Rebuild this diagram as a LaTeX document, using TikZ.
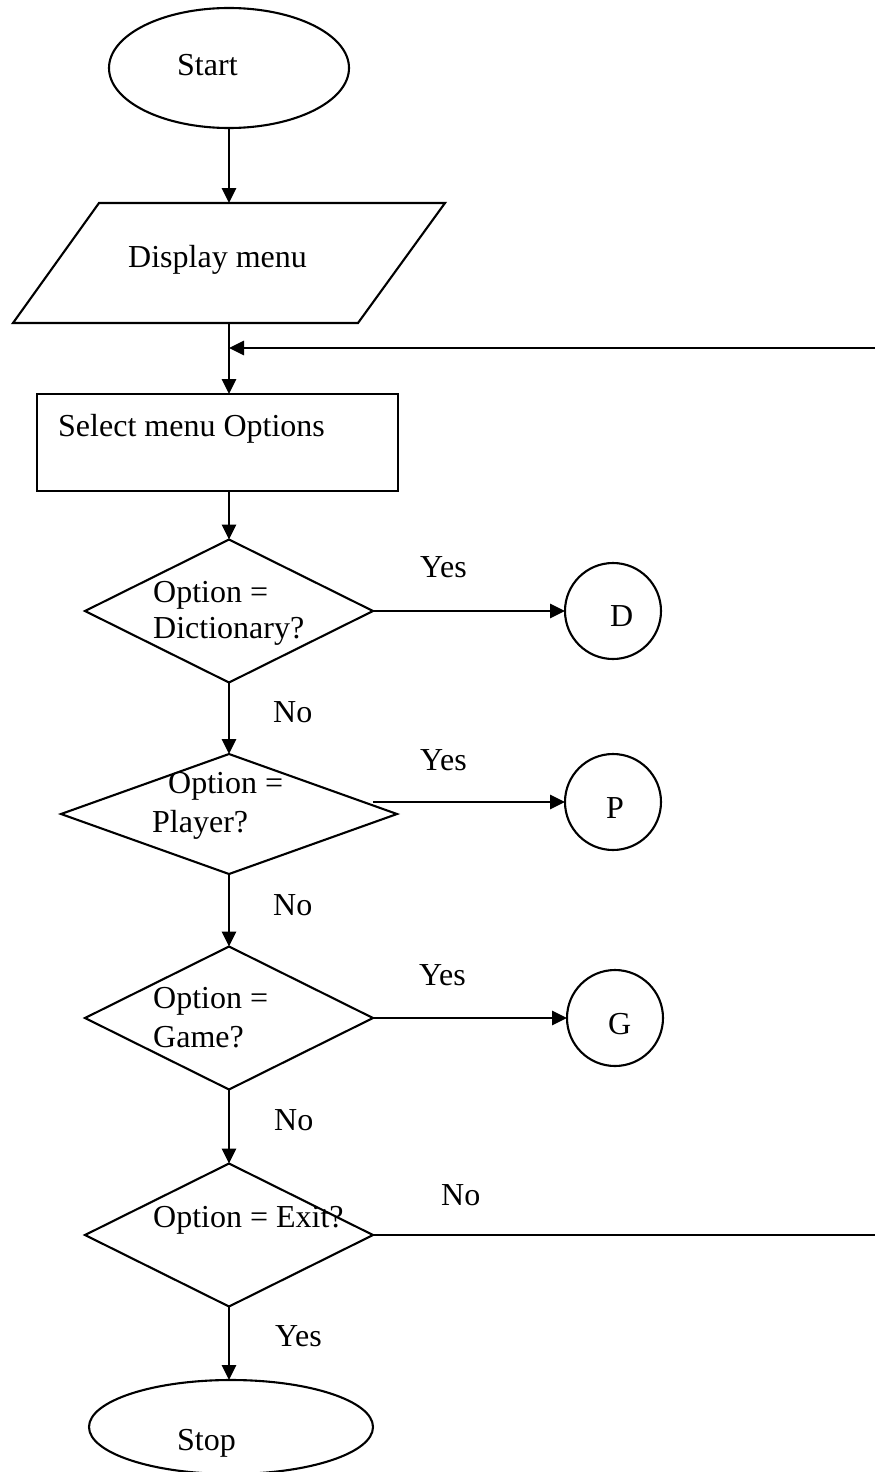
\documentclass[tikz,border=0pt]{standalone}
\usepackage{fontspec}
\setmainfont{Liberation Serif}
\usetikzlibrary{shapes.geometric,arrows.meta}
\begin{document}
\begin{tikzpicture}[x=1pt,y=-1pt,
  outline/.style={draw, line width=2.1pt},
  flow/.style={line width=2.7pt, -{Triangle[length=15pt,width=14pt]}},
  flowplain/.style={line width=2.7pt},
  txt/.style={anchor=base west, inner sep=0, font=\fontsize{32}{38}\selectfont},
  terminal/.style={outline, ellipse, inner sep=0, outer sep=0},
  decision/.style={outline, diamond, inner sep=0, outer sep=0},
  process/.style={outline, rectangle, inner sep=0, outer sep=0},
  connector/.style={outline, circle, minimum size=96pt, inner sep=0, outer sep=0}]
\useasboundingbox (0,0) rectangle (875,1472);

% start terminal
\node[terminal, minimum width=240pt, minimum height=120pt] (start) at (229,68) {};
\node[txt] (t-start) at (177,75) {Start};

% input/output: display menu
\coordinate (p1) at (99,203);
\coordinate (p2) at (445,203);
\coordinate (p3) at (358,323);
\coordinate (p4) at (13,323);
\draw[outline] (p1) -- (p2) -- (p3) -- (p4) -- cycle;
\coordinate (disp-in) at (229,203);
\coordinate (disp-out) at (229,323);
\node[txt] (t-disp) at (128,267) {Display menu};

% process: select option
\node[process, minimum width=361pt, minimum height=97pt] (sel) at (217.5,442.5) {};
\node[txt] (t-sel) at (58,436) {Select menu Options};

% decisions
\node[decision, minimum width=288pt, minimum height=143pt] (qdict) at (229,611) {};
\node[decision, minimum width=336pt, minimum height=120pt] (qplay) at (229,814) {};
\node[decision, minimum width=288pt, minimum height=143pt] (qgame) at (229,1018) {};
\node[decision, minimum width=288pt, minimum height=143pt] (qexit) at (229,1235) {};

\node[txt] (t-dict1) at (153,602) {Option =};
\node[txt] (t-dict2) at (153,638) {Dictionary?};
\node[txt] (t-play1) at (168,793) {Option =};
\node[txt] (t-play2) at (152,832) {Player?};
\node[txt] (t-game1) at (153,1008) {Option =};
\node[txt] (t-game2) at (153,1047) {Game?};
\node[txt] (t-exit) at (153,1227) {Option = Exit?};

% off-page connectors
\node[connector] (cD) at (613,611) {};
\node[connector] (cP) at (613,802) {};
\node[connector] (cG) at (615,1018) {};
\node[txt] (t-D) at (610,626) {D};
\node[txt] (t-P) at (606,818) {P};
\node[txt] (t-G) at (608,1034) {G};

% stop terminal
\node[terminal, minimum width=284pt, minimum height=94pt] (stop) at (231,1427) {};
\node[txt] (t-stop) at (177,1450) {Stop};

% main flow
\draw[flow] (start.south) -- (disp-in);
\coordinate (loop-r) at (875,348);
\coordinate (loop-j) at (229,348);
\draw[flow] (loop-r) -- (loop-j);
\draw[flow] (disp-out) -- (disp-out |- sel.north);
\draw[flow] (sel.south -| qdict.north) -- (qdict.north);
\draw[flow] (qdict.south) -- (qplay.north);
\draw[flow] (qplay.south) -- (qgame.north);
\draw[flow] (qgame.south) -- (qexit.north);
\draw[flow] (qexit.south) -- (qexit.south |- stop.north);

% branches
\draw[flow] (qdict.east) -- (cD.west);
\draw[flow] (cP.west -| qdict.east) -- (cP.west);
\draw[flow] (qgame.east) -- (cG.west);
\coordinate (exit-r) at (875,1235);
\draw[flowplain] (qexit.east) -- (exit-r);

% branch labels
\node[txt] (l-yes1) at (420,577) {Yes};
\node[txt] (l-no1) at (273,722) {No};
\node[txt] (l-yes2) at (420,770) {Yes};
\node[txt] (l-no2) at (273,915) {No};
\node[txt] (l-yes3) at (419,985) {Yes};
\node[txt] (l-no3) at (274,1130) {No};
\node[txt] (l-no4) at (441,1205) {No};
\node[txt] (l-yes4) at (275,1346) {Yes};
\end{tikzpicture}
\end{document}
